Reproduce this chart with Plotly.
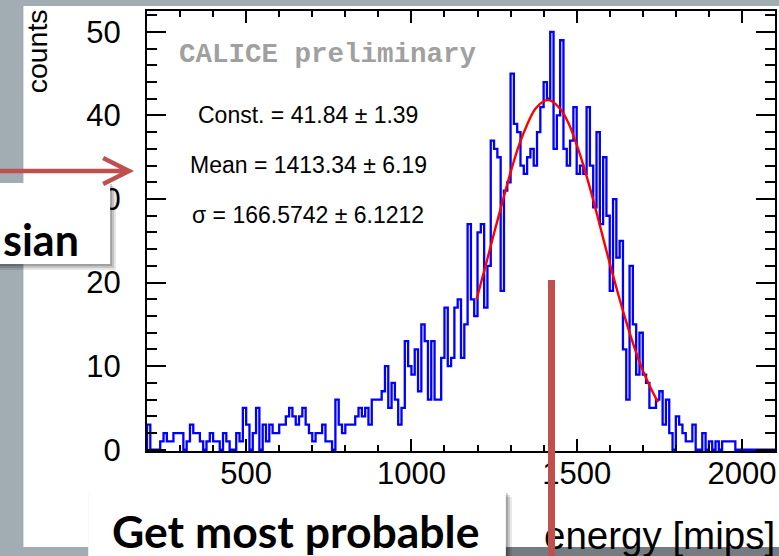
import plotly.graph_objects as go

# ---------------- data ----------------
bin_start = 200   # lower edge of the first bin [mips]
bin_width = 10    # bin width [mips]
counts = [3, 0, 0, 0, 1, 2, 1, 1, 2, 2,
          2, 0, 1, 3, 2, 2, 1, 0, 1, 2,
          1, 1, 0, 2, 1, 0, 0, 2, 1, 5,
          3, 0, 2, 5, 0, 3, 1, 3, 2, 2,
          3, 3, 4, 5, 4, 3, 4, 5, 3, 2,
          1, 2, 2, 3, 1, 1, 0, 6, 3, 2,
          3, 3, 3, 4, 5, 4, 5, 3, 6, 6,
          6, 7, 10, 5, 8, 6, 3, 5, 13, 10,
          9, 12, 7, 15, 13, 6, 13, 6, 6, 11,
          17, 10, 11, 17, 18, 11, 15, 27, 18, 16,
          26, 27, 17, 22, 37, 36, 35, 19, 31, 32,
          45, 39, 38, 34, 33, 35, 36, 34, 38, 41,
          44, 42, 50, 36, 40, 49, 36, 34, 37, 41,
          33, 34, 33, 41, 34, 29, 38, 27, 35, 28,
          19, 30, 23, 25, 12, 6, 22, 15, 9, 14,
          9, 8, 5, 5, 6, 7, 3, 6, 2, 0,
          4, 3, 2, 1, 1, 3, 0, 0, 2, 0,
          1, 0, 1, 0, 1, 1, 1, 1, 0, 0,
          0, 0, 0, 0, 0, 0, 0, 0, 0, 0]

# red fit curve
fit_x = [1197, 1225, 1250, 1275, 1300, 1325, 1350, 1375, 1400, 1413, 1425,
         1450, 1475, 1500, 1525, 1550, 1575, 1600, 1625, 1650, 1675, 1700, 1725, 1746]
fit_y = [18.0, 22.1, 25.9, 29.6, 33.2, 36.4, 38.9, 40.8, 41.7, 41.84, 41.7,
         40.8, 39.1, 36.5, 33.4, 29.9, 26.1, 22.3, 18.7, 15.3, 12.2, 9.5, 7.3, 5.7]

x_ticks = [500, 1000, 1500, 2000]
y_ticks = [0, 10, 20, 30, 40, 50]

fit_lines = ["Const. = 41.84 \u00b1 1.39",
             "Mean = 1413.34 \u00b1 6.19",
             "\u03c3 = 166.5742 \u00b1 6.1212"]

# ---------------- geometry helpers ----------------
W, H = 779, 556
L, R, T, B = 147, 2, 11, 105
PW, PH = W - L - R, H - T - B


def px(x):
    return (x - L) / PW


def py(y):
    return (H - B - y) / PH


edges = [bin_start + i * bin_width for i in range(len(counts) + 1)]
hx = [edges[0]] + edges[:-1] + [edges[-1]]
hy = [0] + counts + [counts[-1]]

fig = go.Figure()
fig.add_trace(go.Scatter(x=hx, y=hy, mode="lines", line=dict(color="#0000ff", width=2.3, shape="hv"),
                         hoverinfo="skip"))
fig.add_trace(go.Scatter(x=fit_x, y=fit_y, mode="lines",
                         line=dict(color="#ff0000", width=2.4, shape="spline"), hoverinfo="skip"))

SLIDE = "#a2acb3"
RED = "#c0504d"
shapes = []
# white screenshot area (below)
shapes.append(dict(type="rect", xref="paper", yref="paper", layer="below",
                   x0=px(23), x1=px(W + 5), y0=py(547), y1=py(6),
                   fillcolor="white", line=dict(width=0)))
shapes.append(dict(type="rect", xref="paper", yref="paper", layer="below",
                   x0=px(505), x1=px(W + 5), y0=py(H + 5), y1=py(547),
                   fillcolor="#757c81", line=dict(width=0)))
# box shadows and boxes (above)
for off, op in [(6, 0.10), (4, 0.14), (2, 0.18)]:
    shapes.append(dict(type="rect", xref="paper", yref="paper", layer="above",
                       x0=px(-5), x1=px(110 + off), y0=py(264 + off), y1=py(183 + off - 1),
                       fillcolor="rgba(0,0,0,%.2f)" % op, line=dict(width=0)))
    shapes.append(dict(type="rect", xref="paper", yref="paper", layer="above",
                       x0=px(88 + off - 2), x1=px(507 + off), y0=py(H + 10), y1=py(493 + off - 2),
                       fillcolor="rgba(0,0,0,%.2f)" % op, line=dict(width=0)))
shapes.append(dict(type="rect", xref="paper", yref="paper", layer="above",
                   x0=px(-5), x1=px(110), y0=py(264), y1=py(183),
                   fillcolor="white", line=dict(width=0)))
shapes.append(dict(type="rect", xref="paper", yref="paper", layer="above",
                   x0=px(88), x1=px(507), y0=py(H + 10), y1=py(493),
                   fillcolor="white", line=dict(width=0)))
# red arrow
arrow_path = "M %f,%f L %f,%f M %f,%f L %f,%f L %f,%f" % (
    px(-5), py(171), px(126), py(171),
    px(103), py(158), px(129), py(171), px(103), py(184))
shapes.append(dict(type="path", xref="paper", yref="paper", layer="above", path=arrow_path,
                   line=dict(color=RED, width=4.5)))

annotations = []
FONT = "Liberation Sans, Arial, sans-serif"


def note(text, x, y, size, family=FONT, color="black", xanchor="center", yanchor="middle", **kw):
    annotations.append(dict(text=text, x=px(x), y=py(y), xref="paper", yref="paper",
                            xanchor=xanchor, yanchor=yanchor, showarrow=False,
                            font=dict(family=family, size=size, color=color), **kw))


note("counts", 37, 51, 28.5, textangle=-90)
note("<b>CALICE preliminary</b>", 328, 55, 27.5,
     family="Liberation Mono, Courier New, monospace", color="#a0a0a0")
for i, t in enumerate(fit_lines):
    note(t, 309, 115 + 50 * i, 23)
note("energy [mips]", 779, 535, 38.5, xanchor="right")
note("<b>sian</b>", 1, 239, 43, family="Lato, sans-serif", xanchor="left")
note("<b>Get most probable</b>", 110, 530, 44.5, family="Lato, sans-serif", xanchor="left")
# red vertical marker bar (drawn last, on top)
annotations.append(dict(text=" ", x=px(549), y=py(280), xref="paper", yref="paper",
                        xanchor="left", yanchor="top", showarrow=False, width=7, height=280,
                        borderpad=0, borderwidth=0, bgcolor=RED, font=dict(size=6)))

axis_common = dict(showline=True, linecolor="black", linewidth=2, mirror="allticks",
                   ticks="inside", tickcolor="black", tickwidth=2, showgrid=False, zeroline=False,
                   tickfont=dict(family=FONT, size=31, color="black"))

fig.update_layout(
    width=W, height=H, margin=dict(l=L, r=R, t=T, b=B, pad=0),
    paper_bgcolor=SLIDE, plot_bgcolor="white", showlegend=False,
    shapes=shapes, annotations=annotations,
    xaxis=dict(range=[200, 2100], tickmode="array", tickvals=x_ticks,
               ticktext=[str(v) for v in x_ticks], ticklen=12, ticklabelstandoff=-6,
               minor=dict(dtick=100, tick0=0, ticks="inside", ticklen=6, tickwidth=1.5, tickcolor="black"),
               **axis_common),
    yaxis=dict(range=[-0.15, 52.5], tickmode="array", tickvals=y_ticks,
               ticktext=[str(v) for v in y_ticks], ticklen=19, ticklabelstandoff=18,
               minor=dict(dtick=2, tick0=0, ticks="inside", ticklen=10, tickwidth=1.5, tickcolor="black"),
               **axis_common),
)

fig.write_html("out.html")
